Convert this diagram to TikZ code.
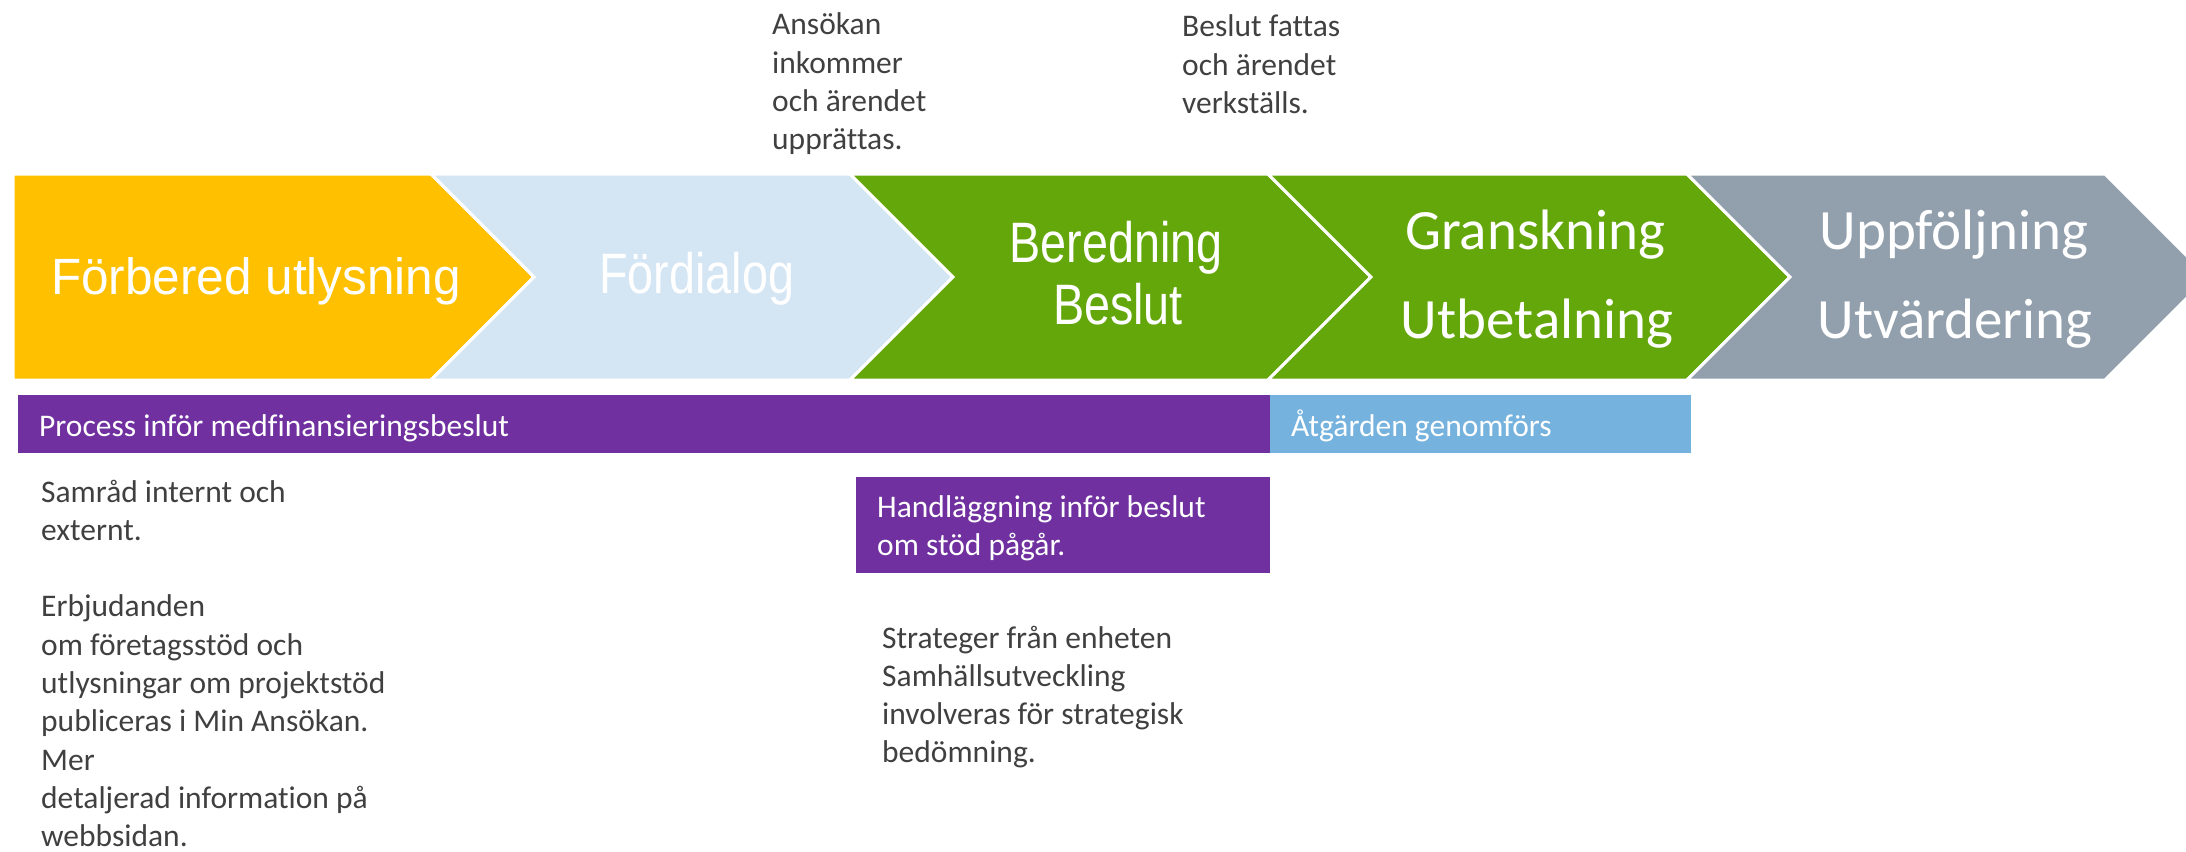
\documentclass[tikz,border=0pt]{standalone}
\usepackage{fontspec}
\setmainfont{Carlito}[Ligatures=NoCommon]
\newfontfamily\arialfont[FakeStretch=0.97]{Liberation Sans}
\newfontfamily\narrowfont[FakeStretch=0.82]{Liberation Sans}
\definecolor{cyellow}{HTML}{FFC000}
\definecolor{clightblue}{HTML}{D4E5F4}
\definecolor{cgreen}{HTML}{64A70B}
\definecolor{cgray}{HTML}{929FAC}
\definecolor{cpurple}{HTML}{7030A0}
\definecolor{cbarblue}{HTML}{75B2DE}
\definecolor{ctext}{HTML}{404040}
\begin{document}
\begin{tikzpicture}[x=1pt,y=-1pt,
  chev/.style={draw=white,line width=3pt,line join=miter},
  bigarial/.style={inner sep=0pt,text=white,font=\arialfont\fontsize{51}{60}\selectfont},
  bignarrow/.style={inner sep=0pt,text=white,font=\narrowfont\fontsize{57}{62}\selectfont},
  bigcal/.style={inner sep=0pt,text=white,font=\fontsize{57}{70}\selectfont},
  bartext/.style={inner sep=0pt,anchor=base west,text=white,font=\fontsize{31.5}{38.3}\selectfont},
  bodytext/.style={inner sep=0pt,anchor=base west,text=ctext,align=flush left,text width=#1,font=\fontsize{31.5}{38.3}\selectfont},
  bodytext/.default=420pt,
  wbodytext/.style={inner sep=0pt,anchor=base west,text=white,align=flush left,text width=#1,font=\fontsize{31.5}{38.3}\selectfont}
]
\useasboundingbox (0,0) rectangle (2186,851);
% chevrons
\fill[cyellow,chev] (13,174) -- (431,174) -- (534,277) -- (431,380) -- (13,380) -- cycle;
\fill[clightblue,chev] (431,174) -- (850,174) -- (953,277) -- (850,380) -- (431,380) -- (534,277) -- cycle;
\fill[cgreen,chev] (850,174) -- (1268,174) -- (1371,277) -- (1268,380) -- (850,380) -- (953,277) -- cycle;
\fill[cgreen,chev] (1268,174) -- (1687,174) -- (1790,277) -- (1687,380) -- (1268,380) -- (1371,277) -- cycle;
\fill[cgray,chev] (1687,174) -- (2105,174) -- (2208,277) -- (2105,380) -- (1687,380) -- (1790,277) -- cycle;
% chevron labels
\node[bigarial,anchor=base west] (forb) at (51,294) {Förbered utlysning};
\node[bignarrow,anchor=base west] (ford) at (599,293) {Fördialog};
\node[bignarrow,anchor=base] (bered) at (1116,262) {Beredning};
\node[bignarrow,anchor=base] (beslut) at (1118,324) {Beslut};
\node[bigcal,anchor=base] (gransk) at (1535,249) {Granskning};
\node[bigcal,anchor=base] (utbet) at (1537,338) {Utbetalning};
\node[bigcal,anchor=base] (uppf) at (1954,249) {Uppföljning};
\node[bigcal,anchor=base] (utvard) at (1955,338) {Utvärdering};
% bars
\fill[cpurple] (18,395) rectangle (1270,453);
\fill[cbarblue] (1270,395) rectangle (1691,453);
\fill[cpurple] (856,477) rectangle (1270,573);
\node[bartext] (process) at (39,436) {Process inför medfinansieringsbeslut};
\node[bartext] (atgard) at (1291,436) {Åtgärden genomförs};
\node[wbodytext=390pt] (handl) at (877,517) {Handläggning inför beslut\\om stöd pågår.};
% free texts
\node[bodytext=200pt] (ansok) at (772,35) {Ansökan\\inkommer\\och ärendet\\upprättas.};
\node[bodytext=200pt] (beslutf) at (1182,37) {Beslut fattas\\och ärendet\\verkställs.};
\node[bodytext=420pt] (samrad) at (41,502) {Samråd internt och\\externt.\\[38.3pt]Erbjudanden\\om företagsstöd och\\utlysningar om projektstöd\\publiceras i Min Ansökan.\\Mer\\detaljerad information på\\webbsidan.};
\node[bodytext=380pt] (strat) at (882,648) {Strateger från enheten\\Samhällsutveckling\\involveras för strategisk\\bedömning.};
\end{tikzpicture}
\end{document}
